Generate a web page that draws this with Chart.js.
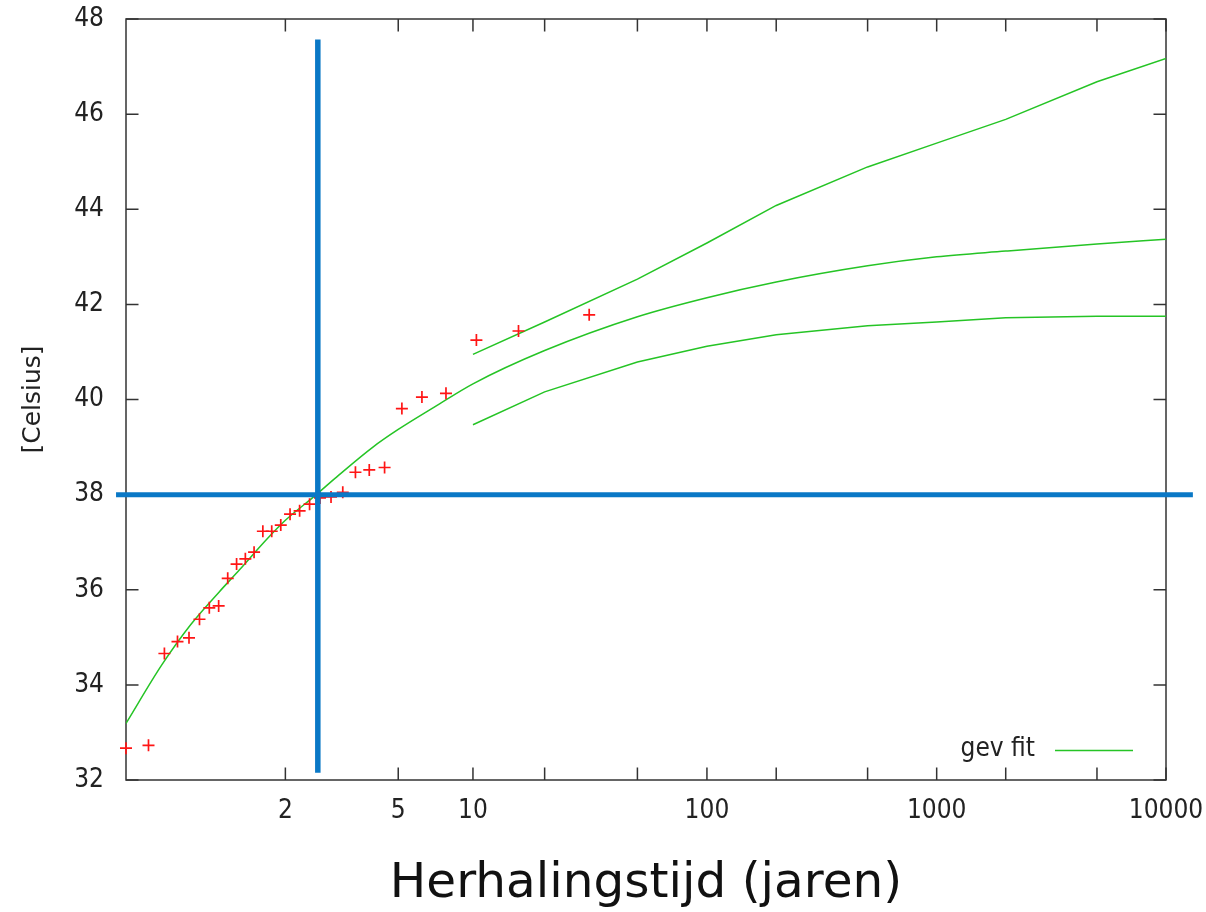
<!DOCTYPE html>
<html><head><meta charset="utf-8">
<script src="https://cdn.jsdelivr.net/npm/chart.js@4/dist/chart.umd.min.js"></script>
<style>html,body{margin:0;padding:0;background:#fff}canvas{display:block}</style>
</head><body>
<canvas id="c" width="1206" height="912" style="width:1206px;height:912px"></canvas>
<script>
// Observed annual maxima: return period (years) and temperature (Celsius)
const OBS_T = [1.0333, 1.0690, 1.1071, 1.1481, 1.1923, 1.2400, 1.2917, 1.3478, 1.4091, 1.4762,
               1.5500, 1.6316, 1.7222, 1.8235, 1.9375, 2.0667, 2.2143, 2.3846, 2.5833, 2.8182,
               3.1000, 3.4444, 3.8750, 4.4286, 5.1667, 6.2000, 7.7500, 10.333, 15.500, 31.000];
const OBS_TEMP = [32.67, 32.73, 34.66, 34.91, 34.99, 35.38, 35.62, 35.66, 36.24, 36.54,
                  36.65, 36.79, 37.23, 37.23, 37.36, 37.59, 37.66, 37.80, 37.93, 37.95,
                  38.05, 38.47, 38.52, 38.57, 39.81, 40.05, 40.13, 41.25, 41.44, 41.78];
// GEV fit (central)
const FIT_T = [1.0333, 1.1, 1.2, 1.35, 1.5, 1.75, 2, 2.5, 3, 4, 5, 7, 10, 20, 50, 100, 200, 500, 1000, 2000, 5000, 10000];
const FIT_MID = [33.19, 34.42, 35.27, 35.95, 36.42, 37.03, 37.46, 37.99, 38.41, 39.00, 39.37, 39.85,
                 40.33, 41.03, 41.74, 42.14, 42.47, 42.81, 43.00, 43.12, 43.27, 43.37];
// Confidence band
const CI_T = [10, 20, 50, 100, 200, 500, 1000, 2000, 5000, 10000];
const CI_UPPER = [40.95, 41.63, 42.53, 43.29, 44.08, 44.89, 45.39, 45.89, 46.68, 47.17];
const CI_LOWER = [39.47, 40.16, 40.79, 41.12, 41.36, 41.55, 41.63, 41.72, 41.75, 41.75];
// Reference lines
const REF_TEMP = 38;
const REF_T = 2.54;
const VLINE_RANGE = [32.15, 47.57];
// Axes
const X_TICK_T = [2, 5, 10, 100, 1000, 10000];
const X_TICK_LABELS = ['2', '5', '10', '100', '1000', '10000'];
const X_MINOR_T = [20, 50, 200, 500, 2000, 5000];
const Y_TICKS = [32, 34, 36, 38, 40, 42, 44, 46, 48];
const X_TITLE = 'Herhalingstijd (jaren)';
const Y_TITLE = '[Celsius]';
const LEGEND_LABEL = 'gev fit';

const GREEN = '#25c425';
const BLUE = '#0a78c6';
const TICK_FONT = '"DejaVu Sans Condensed", "DejaVu Sans", sans-serif';

function gumbel(T) { return -Math.log(-Math.log(1 - 1 / T)); }
const xy = (ts, vs) => ts.map((t, i) => ({ x: gumbel(t), y: vs[i] }));

const XMIN = gumbel(OBS_T[0]);
const XMAX = gumbel(10000);

const frame = {
  id: 'frame',
  beforeDatasetsDraw(chart) {
    const { ctx, chartArea: a, scales: { x, y } } = chart;
    ctx.save();
    ctx.strokeStyle = '#333';
    ctx.lineWidth = 1.5;
    ctx.strokeRect(a.left, a.top, a.right - a.left, a.bottom - a.top);
    const L = 12.5;
    ctx.beginPath();
    [...X_TICK_T, ...X_MINOR_T].forEach(t => {
      const px = x.getPixelForValue(gumbel(t));
      ctx.moveTo(px, a.bottom); ctx.lineTo(px, a.bottom - L);
      ctx.moveTo(px, a.top); ctx.lineTo(px, a.top + L);
    });
    Y_TICKS.forEach(v => {
      const py = y.getPixelForValue(v);
      ctx.moveTo(a.left, py); ctx.lineTo(a.left + L, py);
      ctx.moveTo(a.right, py); ctx.lineTo(a.right - L, py);
    });
    ctx.stroke();
    // legend
    ctx.font = '26px ' + TICK_FONT;
    ctx.fillStyle = '#222';
    ctx.textAlign = 'right';
    ctx.textBaseline = 'middle';
    ctx.fillText(LEGEND_LABEL, a.right - 131, a.bottom - 31);
    ctx.strokeStyle = GREEN;
    ctx.lineWidth = 1.5;
    ctx.beginPath();
    ctx.moveTo(a.right - 111, a.bottom - 29.5);
    ctx.lineTo(a.right - 33, a.bottom - 29.5);
    ctx.stroke();
    ctx.restore();
  }
};

new Chart(document.getElementById('c'), {
  type: 'line',
  data: {
    datasets: [
      { label: 'ref-h', data: [{ x: XMIN - 0.1, y: REF_TEMP }, { x: XMAX + 0.27, y: REF_TEMP }],
        borderColor: BLUE, borderWidth: 5, pointRadius: 0, clip: false, borderCapStyle: 'butt' },
      { label: 'ref-v', data: [{ x: gumbel(REF_T), y: VLINE_RANGE[0] }, { x: gumbel(REF_T), y: VLINE_RANGE[1] }],
        borderColor: BLUE, borderWidth: 5.5, pointRadius: 0, clip: false },
      { label: 'obs', data: xy(OBS_T, OBS_TEMP), showLine: false, pointStyle: 'cross',
        pointRadius: 6, pointBorderWidth: 1.7, borderColor: '#ff1515', backgroundColor: '#ff1515', clip: false },
      { label: LEGEND_LABEL, data: xy(FIT_T, FIT_MID), borderColor: GREEN, borderWidth: 1.5, pointRadius: 0, cubicInterpolationMode: 'monotone' },
      { label: 'upper', data: xy(CI_T, CI_UPPER), borderColor: GREEN, borderWidth: 1.5, pointRadius: 0 },
      { label: 'lower', data: xy(CI_T, CI_LOWER), borderColor: GREEN, borderWidth: 1.5, pointRadius: 0 }
    ]
  },
  options: {
    responsive: false,
    animation: false,
    layout: { padding: { top: 19, right: 40, left: 0, bottom: 0 } },
    plugins: { legend: { display: false }, tooltip: { enabled: false } },
    scales: {
      x: {
        type: 'linear', min: XMIN, max: XMAX,
        afterBuildTicks: s => { s.ticks = X_TICK_T.map(t => ({ value: gumbel(t) })); },
        afterFit: s => { s.height = 132; s.paddingLeft = 0; s.paddingRight = 0; },
        grid: { display: false, drawTicks: false },
        border: { display: false },
        ticks: { autoSkip: false, maxRotation: 0, padding: 16, color: '#222',
                 font: { family: TICK_FONT, size: 26 },
                 callback: (v, i) => X_TICK_LABELS[i] },
        title: { display: true, text: X_TITLE, color: '#111',
                 font: { family: '"DejaVu Sans", sans-serif', size: 48.5 }, padding: { top: 0, bottom: -2 } }
      },
      y: {
        min: 32, max: 48,
        afterBuildTicks: s => { s.ticks = Y_TICKS.map(v => ({ value: v })); },
        afterFit: s => { s.width = 126; s.paddingTop = 0; s.paddingBottom = 0; },
        grid: { display: false, drawTicks: false },
        border: { display: false },
        ticks: { padding: 22, color: '#222', font: { family: TICK_FONT, size: 26 } },
        title: { display: true, text: Y_TITLE, color: '#222',
                 font: { family: '"DejaVu Sans", sans-serif', size: 25 }, padding: { top: 18, bottom: 0 } }
      }
    }
  },
  plugins: [frame]
});
</script>
</body></html>
